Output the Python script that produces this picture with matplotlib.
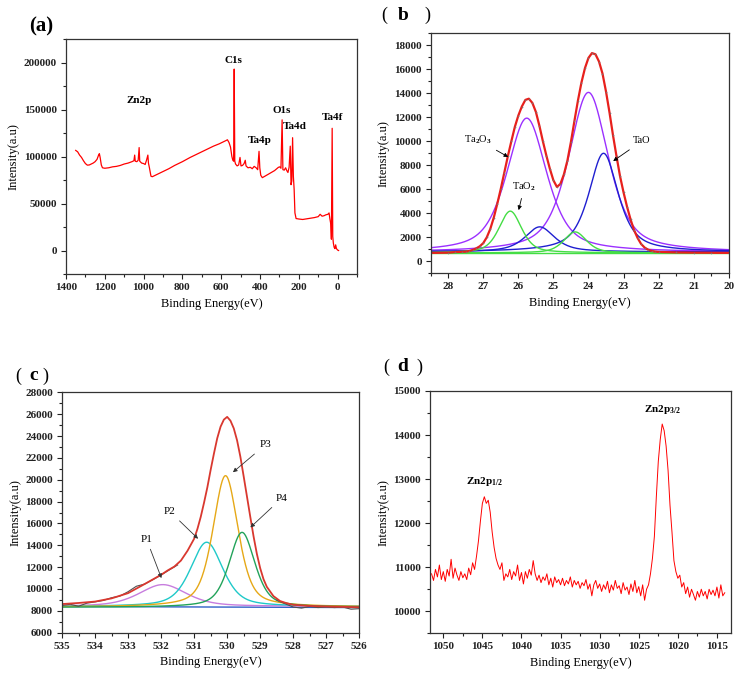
import numpy as np
import matplotlib
matplotlib.use("Agg")
import matplotlib.pyplot as plt
from matplotlib.ticker import MultipleLocator, FuncFormatter

plt.rcParams['font.family'] = ['Liberation Serif', 'Noto Sans CJK SC']
plt.rcParams['font.weight'] = 'bold'
plt.rcParams['mathtext.fontset'] = 'custom'
plt.rcParams['mathtext.rm'] = 'Liberation Serif'
plt.rcParams['mathtext.bf'] = 'Liberation Serif:bold'
plt.rcParams['mathtext.it'] = 'Liberation Serif:italic'

# ---------------- (a) survey spectrum ----------------
a_energy = [1350, 1340, 1330, 1320, 1310, 1300, 1290, 1280, 1270, 1260, 1250, 1240, 1232, 1228,
            1224, 1218, 1212, 1200, 1180, 1160, 1140, 1120, 1100, 1080, 1060, 1050, 1046, 1043,
            1035, 1028, 1023, 1020, 1010, 1000, 992, 985, 978, 975, 970, 962, 955, 945, 930, 900,
            870, 840, 800, 760, 720, 680, 640, 610, 590, 575, 568, 560, 552, 545, 540, 536, 533,
            530, 526, 518, 510, 503, 498, 490, 482, 476, 472, 462, 450, 440, 430, 420, 412, 405,
            401, 396, 388, 375, 350, 325, 305, 298, 292, 286, 282, 275, 268, 262, 256, 250, 244,
            240, 236, 232, 228, 224, 220, 214, 200, 180, 150, 120, 100, 90, 80, 70, 60, 50, 44,
            40, 35, 32, 28, 25, 22, 18, 14, 10, 6, 0, -5]
a_counts = [106500, 105000, 101500, 99000, 95500, 92500, 90800, 91000, 92000, 93000, 94500, 97000,
            101500, 103000, 99000, 91000, 88000, 87500, 88000, 89000, 89500, 90500, 92000, 93000,
            94500, 95500, 101500, 95000, 94500, 96000, 109500, 95000, 93000, 92500, 91500, 96000,
            101500, 93000, 88000, 79000, 78500, 79500, 81000, 84000, 87000, 90500, 94500, 99000,
            103000, 107000, 111000, 113500, 115500, 117000, 117800, 115000, 110000, 100000, 96000,
            95000, 193000, 95000, 92000, 90000, 91000, 99000, 90000, 90500, 92500, 96000, 90000,
            88000, 88500, 87000, 89500, 88000, 86000, 105500, 88000, 80000, 77500, 79000, 82000,
            85000, 88500, 89000, 87500, 139000, 86000, 85500, 88000, 85000, 83000, 88500, 111000,
            70000, 74000, 120000, 79000, 65000, 40000, 34000, 33500, 33000, 34000, 35000, 36000,
            38500, 36500, 37000, 38000, 38500, 40000, 34000, 28000, 12000, 130000, 15000, 8000,
            3500, 2000, 6000, 2000, 500, 0]
a_peak_labels = ['Zn2p', 'C1s', 'Ta4p', 'O1s', 'Ta4d', 'Ta4f']
a_label_e = [1021, 539, 403, 288, 221, 26]
a_label_i = [160000, 202000, 117500, 148800, 131700, 141800]

# ---------------- (b) Ta 4f fit ----------------
b_env_e = [28.5, 28.0, 27.8, 27.6, 27.5, 27.4, 27.3, 27.2, 27.1, 27.0, 26.9, 26.8, 26.7, 26.6,
           26.5, 26.4, 26.3, 26.2, 26.1, 26.0, 25.9, 25.8, 25.7, 25.6, 25.5, 25.4, 25.3, 25.2,
           25.1, 25.0, 24.9, 24.8, 24.7, 24.6, 24.5, 24.4, 24.3, 24.2, 24.1, 24.0, 23.9, 23.8,
           23.7, 23.6, 23.5, 23.4, 23.3, 23.2, 23.1, 23.0, 22.9, 22.8, 22.7, 22.6, 22.5, 22.4,
           22.3, 22.2, 22.1, 22.0, 21.5, 21.0, 20.5, 20.0]
b_env_i = [700, 720, 770, 790, 800, 860, 950, 1080, 1250, 1520, 2000, 2700, 3650, 4800,
           6050, 7400, 8750, 10000, 11200, 12150, 12900, 13450, 13550, 13200, 12450, 11300,
           10000, 8800, 7700, 6750, 6200, 6450, 7250, 8400, 9950, 11700, 13400, 14900, 16100,
           16950, 17350, 17250, 16650, 15650, 14150, 12400, 10500, 8750, 7100, 5750, 4550, 3500,
           2600, 1950, 1450, 1150, 970, 870, 810, 780, 740, 720, 710, 700]
b_centers = [25.76, 24.00, 23.57, 25.39, 26.23, 24.38]
b_peaks = [11930, 14075, 9000, 2870, 4180, 2450]
b_fwhm = [1.35, 1.35, 1.0, 1.0, 0.76, 0.76]
b_eta = [0.6, 0.6, 0.7, 0.7, 0.5, 0.5]
b_base = [750, 750, 780, 780, 700, 700]
b_colors = ['#9b30ff', '#9b30ff', '#1f1fd0', '#1f1fd0', '#44dd44', '#44dd44']

# ---------------- (c) O 1s fit ----------------
c_env_e = [535.0, 534.5, 534.0, 533.5, 533.0, 532.5, 532.0, 531.8, 531.6, 531.4, 531.2, 531.0,
           530.9, 530.8, 530.7, 530.6, 530.5, 530.4, 530.3, 530.2, 530.1, 530.0, 529.9, 529.8,
           529.7, 529.6, 529.5, 529.4, 529.3, 529.2, 529.1, 529.0, 528.9, 528.8, 528.6, 528.4,
           528.2, 528.0, 527.5, 527.0, 526.5, 526.0]
c_env_i = [8620, 8720, 8850, 9140, 9620, 10450, 11300, 11700, 12050, 12600, 13500, 14600,
           15500, 16600, 17900, 19300, 20900, 22400, 23800, 24850, 25500, 25750, 25400, 24700,
           23600, 22100, 20300, 18450, 16600, 14800, 13200, 11900, 10900, 10200, 9350, 8900,
           8700, 8550, 8450, 8400, 8370, 8330]
c_raw_high_e = [535.0, 534.75, 534.5, 534.25, 534.0, 533.75, 533.5, 533.25, 533.0, 532.75,
                532.5, 532.25, 532.0, 531.75, 531.5]
c_raw_high_i = [8500, 8600, 8420, 8700, 8820, 8950, 9200, 9350, 9750, 10250, 10450, 10850,
                11280, 11750, 12200]
c_raw_low_e = [528.5, 528.25, 528.0, 527.75, 527.5, 527.25, 527.0, 526.75, 526.5, 526.25, 526.0]
c_raw_low_i = [9000, 8650, 8350, 8250, 8400, 8300, 8350, 8300, 8350, 8150, 8200]
c_base_e = [535.0, 526.0]
c_base_i = [8400, 8300]
c_names = ['P1', 'P2', 'P3', 'P4']
c_centers = [531.95, 530.62, 530.05, 529.55]
c_peaks = [10400, 14280, 20370, 15180]
c_fwhm = [1.7, 1.15, 0.9, 0.92]
c_eta = [0.5, 0.5, 0.5, 0.5]
c_base = [8400, 8380, 8350, 8320]
c_colors = ['#c77dde', '#1fc9c9', '#e6a817', '#22a35a']

# ---------------- (d) Zn 2p ----------------
d_counts = [10850, 10700, 10950, 10780, 11050, 10720, 10900, 10680, 10950, 10800,
            11180, 10750, 10980, 10820, 10700, 10900, 10760, 10850, 10720, 10980,
            10830, 11100, 10950, 11250, 11600, 12050, 12450, 12600, 12450, 12520,
            12250, 11800, 11450, 11200, 11050, 10950, 11100, 10700, 10850, 10780,
            10950, 10720, 10900, 10800, 11050, 10700, 10880, 10620, 10900, 10750,
            10950, 10820, 11150, 10850, 10700, 10820, 10650, 10780, 10700, 10850,
            10600, 10750, 10550, 10780, 10650, 10720, 10600, 10750, 10580, 10700,
            10620, 10780, 10550, 10700, 10600, 10680, 10520, 10650, 10580, 10720,
            10500, 10620, 10350, 10600, 10700, 10520, 10620, 10450, 10600, 10500,
            10680, 10420, 10600, 10480, 10700, 10520, 10580, 10400, 10650, 10480,
            10550, 10380, 10620, 10450, 10700, 10420, 10560, 10350, 10600, 10250,
            10500, 10600, 10850, 11200, 11700, 12600, 13400, 13900, 14250, 14100,
            13750, 13200, 12400, 11800, 11150, 10900, 10750, 10820, 10550, 10650,
            10400, 10550, 10320, 10500, 10380, 10250, 10450, 10320, 10500, 10350,
            10450, 10280, 10500, 10380, 10480, 10350, 10550, 10300, 10600, 10350,
            10420]
d_start, d_end = 1051.5, 1014.0
d_energy = np.linspace(d_start, d_end, len(d_counts))


def pseudo_voigt(x, center, peak, fwhm, eta, base):
    u = (x - center) / fwhm
    g = np.exp(-4 * np.log(2) * u ** 2)
    l = 1.0 / (1.0 + 4 * u ** 2)
    return base + (peak - base) * (eta * l + (1 - eta) * g)


fig = plt.figure(figsize=(7.41, 6.77), dpi=100)
W, H = 741, 677


def add_ax(l, t, r, b):
    return fig.add_axes([l / W, 1 - b / H, (r - l) / W, (b - t) / H])


def style(ax, xmaj, xmin, ymaj, ymin):
    ax.xaxis.set_major_locator(MultipleLocator(xmaj))
    ax.xaxis.set_minor_locator(MultipleLocator(xmin))
    ax.yaxis.set_major_locator(MultipleLocator(ymaj))
    ax.yaxis.set_minor_locator(MultipleLocator(ymin))
    ax.tick_params(which='both', direction='out', top=False, right=False, width=0.8,
                   labelsize=8, colors='#222222')
    ax.tick_params(which='major', length=3.5, pad=3)
    ax.tick_params(which='minor', length=2)
    for s in ax.spines.values():
        s.set_linewidth(0.9)
        s.set_color('#333333')
    ax.yaxis.set_major_formatter(FuncFormatter(lambda v, p: f'{v:.0f}'))
    ax.xaxis.set_major_formatter(FuncFormatter(lambda v, p: f'{v:g}'))
    ax.set_xlabel('Binding Energy(eV)', fontsize=9, labelpad=4)
    ax.set_ylabel('Intensity(a.u)', fontsize=9, labelpad=3)


def panel_label(x_lp, x_letter, x_rp, y, letter):
    yy = 1 - y / H
    fig.text(x_lp / W, yy, '(', fontsize=13, fontweight='normal', ha='left', va='center')
    fig.text(x_letter / W, yy, letter, fontsize=14, fontweight='bold', ha='left', va='center')
    fig.text(x_rp / W, yy, ')', fontsize=13, fontweight='normal', ha='left', va='center')


# (a)
axa = add_ax(66, 39, 357, 274)
axa.plot(a_energy, a_counts, color='#ff0000', lw=0.9)
axa.set_xlim(1400, -100)
axa.set_ylim(-25000, 225000)
style(axa, 200, 100, 50000, 25000)
for t, e, i in zip(a_peak_labels, a_label_e, a_label_i):
    axa.text(e, i, t, ha='center', va='center', fontsize=8)
fig.text(29 / W, 1 - 26 / H, '(a)', fontsize=15, ha='left', va='center')

# (b)
axb = add_ax(430.7, 33.3, 728.7, 273.3)
xb = np.linspace(28.5, 20, 500)
axb.axhline(b_base[-1], color=b_colors[-1], lw=1.0)
for c, p, w, et, bs, col in zip(b_centers, b_peaks, b_fwhm, b_eta, b_base, b_colors):
    axb.plot(xb, pseudo_voigt(xb, c, p, w, et, bs), color=col, lw=1.0)
axb.plot(b_env_e, b_env_i, color='#e8201c', lw=1.6)
axb.plot(b_env_e, b_env_i, 'o', color='#8a6a6a', ms=1.2, mew=0)
axb.set_xlim(28.5, 20)
axb.set_ylim(-1000, 19000)
style(axb, 1, 0.5, 2000, 1000)
arr = dict(arrowstyle='-|>', color='black', lw=0.6, mutation_scale=6)
axb.annotate('Ta$_2$O$_3$', xy=(26.22, 8580), xytext=(27.15, 10120), fontsize=7.5,
             fontweight='normal', ha='center', va='center', arrowprops=arr)
axb.annotate('TaO$_2$', xy=(26.01, 4040), xytext=(25.83, 6215), fontsize=7.5,
             fontweight='normal', ha='center', va='center', arrowprops=arr)
axb.annotate('TaO', xy=(23.36, 8220), xytext=(22.47, 10030), fontsize=7.5,
             fontweight='normal', ha='center', va='center', arrowprops=arr)
panel_label(381, 398, 424, 15, 'b')

# (c)
axc = add_ax(62, 392.3, 359.3, 632.7)
xc = np.linspace(535, 526, 500)
axc.plot(c_base_e, c_base_i, color='#3060c8', lw=1.0)
for c, p, w, et, bs, col in zip(c_centers, c_peaks, c_fwhm, c_eta, c_base, c_colors):
    axc.plot(xc, pseudo_voigt(xc, c, p, w, et, bs), color=col, lw=1.0)
axc.plot(c_raw_high_e, c_raw_high_i, color='#505050', lw=0.8)
axc.plot(c_raw_low_e, c_raw_low_i, color='#505050', lw=0.8)
axc.plot(c_env_e, c_env_i, color='#d9382f', lw=1.3)
axc.set_xlim(535, 526)
axc.set_ylim(6000, 28000)
style(axc, 1, 0.5, 2000, 1000)
arr2 = dict(arrowstyle='-|>', color='#333333', lw=0.6, mutation_scale=6)
c_text_pos = [(532.44, 14540), (531.73, 17075), (528.85, 23180), (528.35, 18300)]
c_arrow_to = [(531.96, 10760), (530.82, 14420), (529.89, 20520), (529.36, 15460)]
for name, tp, ap in zip(c_names, c_text_pos, c_arrow_to):
    axc.annotate(name, xy=ap, xytext=tp, fontsize=8, fontweight='normal',
                 ha='center', va='center', arrowprops=arr2)
panel_label(15, 29, 42, 376, 'c')

# (d)
axd = add_ax(430, 391, 731, 633.3)
axd.plot(d_energy, d_counts, color='#ff0000', lw=0.7)
axd.set_xlim(1051.7, 1013.2)
axd.set_ylim(9500, 15000)
style(axd, 5, 2.5, 1000, 500)
axd.text(1044.66, 12950, r'Zn2p$_{\mathbf{1/2}}$', ha='center', va='center', fontsize=8)
axd.text(1021.93, 14575, r'Zn2p$_{\mathbf{3/2}}$', ha='center', va='center', fontsize=8)
panel_label(383, 397, 416, 367, 'd')

fig.savefig('out.png', dpi=100)
